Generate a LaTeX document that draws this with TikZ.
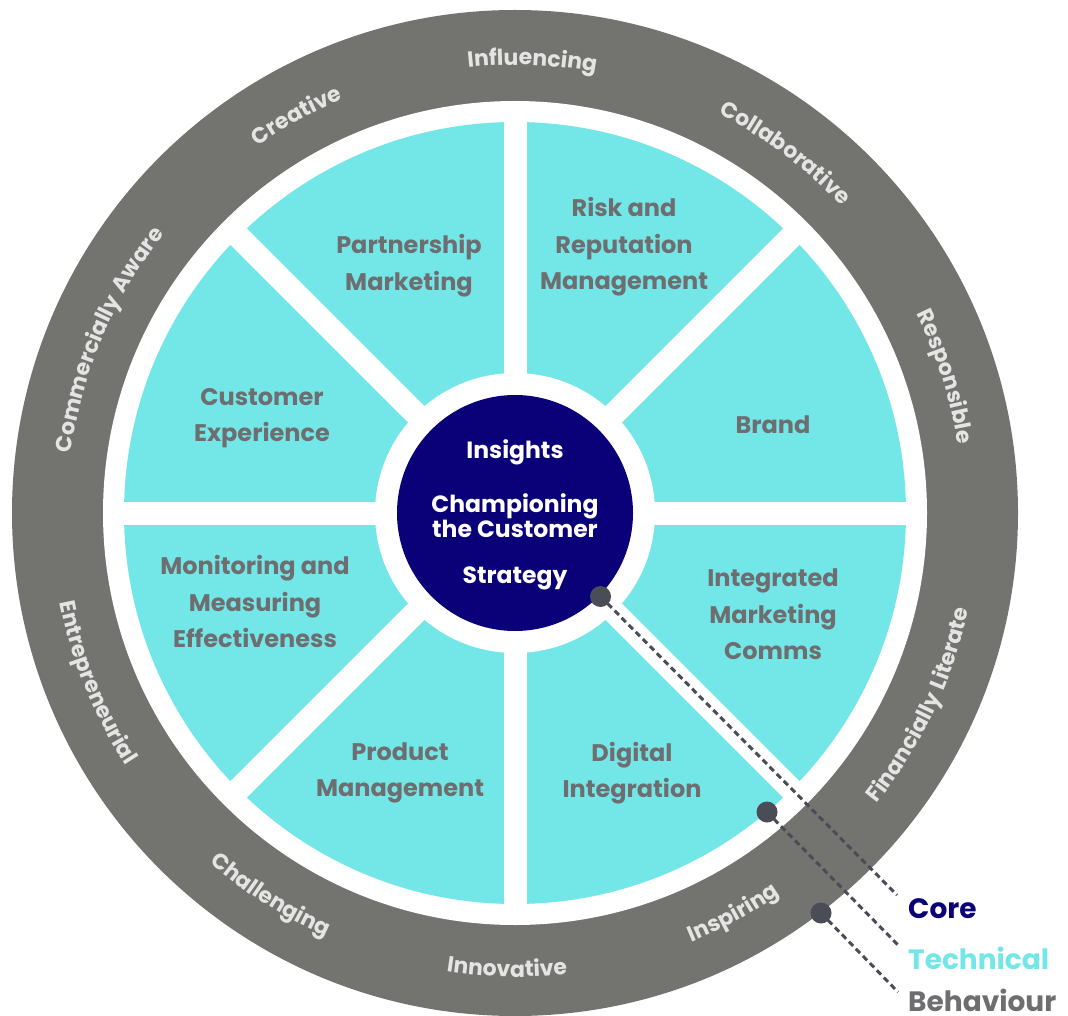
\documentclass[tikz,border=0pt]{standalone}
\usepackage{fontspec}
\setmainfont{Poppins}
\newfontfamily\ringfam{Poppins}[LetterSpace=6]
\usetikzlibrary{decorations.text}
\definecolor{ringgray}{RGB}{115,115,111}
\definecolor{cyanfill}{RGB}{115,230,232}
\definecolor{navy}{RGB}{10,0,119}
\definecolor{labelgray}{RGB}{110,110,112}
\definecolor{ringtext}{RGB}{228,228,228}
\definecolor{dotgray}{RGB}{74,77,85}
\newcommand\secfont{\bfseries\fontsize{24}{36.5}\selectfont}
\newcommand\midfont{\bfseries\fontsize{23.5}{25.5}\selectfont}
\newcommand\ringfont{\ringfam\bfseries\fontsize{22}{24}\selectfont}
\newcommand\legfont{\bfseries\fontsize{28}{30}\selectfont}
\newcommand\ringcw[2]{%
  \path[decorate,decoration={text along path,text align=center,text color=ringtext,text={|\ringfont|#2}}]
    (O) ++(#1+40:448) arc[start angle=#1+40,end angle=#1-40,radius=448];}
\newcommand\ringccw[2]{%
  \path[decorate,decoration={text along path,text align=center,text color=ringtext,text={|\ringfont|#2}}]
    (O) ++(#1-40:464) arc[start angle=#1-40,end angle=#1+40,radius=464];}
\begin{document}
\begin{tikzpicture}[x=1pt,y=1pt,
  seclabel/.style={align=center,text=labelgray,font=\secfont,inner sep=0},
  midlabel/.style={align=center,text=white,font=\midfont,inner sep=0},
  dotnode/.style={circle,fill=dotgray,minimum size=21,inner sep=0},
  dashline/.style={dotgray,line width=3,dash pattern=on 6 off 4},
  legend/.style={anchor=west,font=\legfont,inner sep=0}]
\useasboundingbox (0,0) rectangle (1068,-1016);
\coordinate (O) at (515,-513);
% rings
\fill[ringgray] (O) circle[radius=503];
\fill[white] (O) circle[radius=412];
\fill[cyanfill] (O) circle[radius=391];
\foreach \a in {0,45,90,135}
  \draw[white,line width=23] ([shift={(\a:400)}]O) -- ([shift={(\a+180:400)}]O);
\fill[white] (O) circle[radius=140];
\fill[navy] (O) circle[radius=118];
% sector labels
\node[seclabel] (pm) at (409,-265.5) {Partnership\\Marketing};
\node[seclabel] (risk) at (624,-247) {Risk and\\Reputation\\Management};
\node[seclabel] (cx) at (262,-418) {Customer\\Experience};
\node[seclabel] (brand) at (773,-425) {Brand};
\node[seclabel] (mon) at (255,-601.5) {Monitoring and\\Measuring\\Effectiveness};
\node[seclabel] (imc) at (773,-614.5) {Integrated\\Marketing\\Comms};
\node[seclabel] (prod) at (400,-773) {Product\\Management};
\node[seclabel] (dig) at (632,-773) {Digital\\Integration};
% centre labels
\node[midlabel] (ins) at (515,-452) {Insights};
\node[midlabel] (champ) at (515,-515.5) {Championing\\the Customer};
\node[midlabel] (strat) at (515,-578) {Strategy};
% ring labels
\ringcw{87.8}{Influencing}
\ringcw{118.8}{Creative}
\ringcw{53.1}{Collaborative}
\ringcw{156.9}{Commercially Aware}
\ringcw{17.6}{Responsible}
\ringccw{-25.4}{Financially Literate}
\ringccw{-61.4}{Inspiring}
\ringccw{-91}{Innovative}
\ringccw{-122.6}{Challenging}
\ringccw{-157.9}{Entrepreneurial}
% legend
\node[dotnode] (dcore) at (600.5,-596.5) {};
\node[dotnode] (dtech) at (767,-812) {};
\node[dotnode] (dbeh) at (821,-913) {};
\coordinate (ecore) at (897,-895);
\coordinate (etech) at (900,-947);
\coordinate (ebeh) at (898,-992);
\draw[dashline] (dcore.center) -- (ecore);
\draw[dashline] (dtech.center) -- (etech);
\draw[dashline] (dbeh.center) -- (ebeh);
\node[legend,text=navy] (core) at (908,-909) {Core};
\node[legend,text=cyanfill] (tech) at (908,-958) {Technical};
\node[legend,text=labelgray] (beh) at (908,-1000) {Behaviour};
\end{tikzpicture}
\end{document}
